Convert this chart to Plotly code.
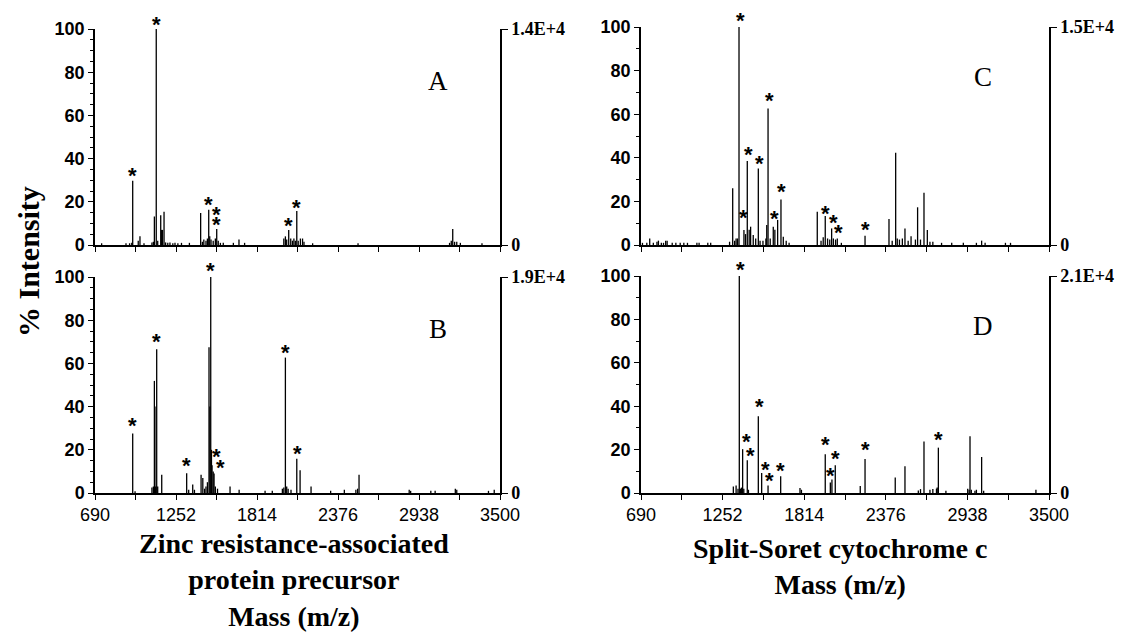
import plotly.graph_objects as go

# The page body adds an 8px margin, so the figure is shifted by 8px;
# it is sized to reach the right and bottom edges of the 1126x632 window.
PAGE_W, PAGE_H = 1126, 632
OFF = 8
W, H = PAGE_W - OFF, PAGE_H - OFF

# ---------------- data ----------------
# Panel A: Zinc resistance-associated protein precursor
A_mz = [736, 905, 930, 945, 951.6, 990, 1002, 1030, 1085, 1095, 1102, 1115, 1125, 1146, 1152, 1158, 1169,
        1180, 1195, 1210, 1230, 1245, 1265, 1290, 1345, 1423, 1435, 1445, 1460, 1470, 1479, 1486, 1495, 1510,
        1525, 1534.5, 1545, 1560, 1580, 1650, 1689, 1728, 2000, 2011, 2020, 2034, 2048, 2060, 2070, 2080, 2090,
        2100, 2115, 2130, 2140, 2200, 2515, 3150, 3162, 3172, 3185, 3200, 3225, 3375]
A_int = [0.8, 0.8, 0.8, 1, 29.7, 2, 4, 0.8, 1.2, 1.5, 13.2, 100, 2, 13.8, 7, 7, 15.4,
         1.2, 1, 1.2, 0.8, 1, 0.8, 1, 1, 14.8, 1.5, 2.5, 2, 3, 16.3, 4, 2.5, 2,
         3, 7.4, 2, 1, 1, 1, 2.5, 1, 3, 4, 2.5, 6.9, 3, 2, 3, 2, 15.7,
         2, 3, 3, 1.5, 0.8, 0.8, 1, 2, 7.4, 1.5, 1.5, 1, 0.8]
A_star_mz = [951.6, 1115, 1479, 1534, 1534, 2034, 2090]
A_star_y = [33.8, 104, 20.5, 15.8, 11.2, 10.8, 19.4]

# Panel B
B_mz = [951.6, 968, 1085, 1095, 1102, 1106, 1110, 1118, 1125, 1153, 1326, 1340, 1368, 1380, 1426, 1438,
        1450, 1460, 1470, 1481, 1487, 1493, 1498, 1502, 1510, 1516, 1525, 1540, 1627, 1690, 1870, 1920,
        1990, 2000, 2011, 2020, 2030, 2050, 2090, 2113, 2189, 2325, 2420, 2500, 2512, 2522, 2870, 2880,
        3020, 3050, 3190, 3200, 3420, 3460]
B_int = [27.6, 0.8, 2.5, 3, 51.9, 40, 3, 66.6, 3, 8.5, 9.1, 1.5, 3.9, 1.5, 8.5, 7,
         2, 3, 5, 67.5, 40, 100, 20, 12.8, 10, 9, 3, 2, 3, 1.5, 1, 1,
         2, 2.5, 62.7, 3, 2, 1.5, 15.8, 10.5, 3, 1, 1.5, 1.5, 2, 8.5, 1.5, 1,
         1, 1, 2, 1.5, 1, 1.5]
B_star_mz = [951.6, 1118, 1326, 1493, 1534, 1564, 2011, 2093]
B_star_y = [33, 72, 14.4, 104.8, 18.6, 13.5, 66.7, 20.1]

# Panel C: Split-Soret cytochrome c
C_mz = [700, 730, 750, 775, 800, 810, 830, 845, 860, 870, 905, 930, 960, 985, 1010, 1075, 1090, 1150, 1170,
        1300, 1321.5, 1335, 1345, 1355, 1365, 1399, 1410, 1422, 1435, 1445, 1463, 1480, 1498, 1510, 1530,
        1550, 1556, 1565, 1580, 1601, 1612, 1631, 1654, 1670, 1690, 1710, 1904, 1930, 1945, 1959, 1975,
        1990, 2003, 2015, 2030, 2042, 2070, 2233, 2398, 2420, 2444, 2455, 2470, 2490, 2508, 2530, 2550,
        2580, 2595, 2615, 2639, 2662, 2680, 2700, 2760, 2830, 2910, 3000, 3036, 3060, 3200, 3235]
C_int = [1, 1, 3, 1, 1.5, 2, 1, 1, 2, 2, 1, 1, 1, 1, 1, 1, 1, 1, 1,
         1.5, 26, 2, 3, 3, 100, 6.9, 5, 38.5, 7, 8.4, 4.6, 3, 35.1, 2, 2,
         3, 9.2, 62.6, 3, 8.4, 7, 11.5, 20.9, 3.8, 2, 1, 15.3, 2, 3.5, 13.3, 3,
         2.5, 7.6, 3, 2.5, 3, 1, 4.3, 11.9, 2, 42.3, 3, 2.5, 3, 7.6, 2, 4,
         2.5, 17.3, 2.5, 24, 6.9, 1.5, 1.5, 1, 1, 1, 1, 2, 1, 1, 1]
C_star_mz = [1376, 1399, 1429, 1505, 1572, 1606, 1659, 1964, 2014, 2049, 2235]
C_star_y = [104.6, 14.5, 43.5, 39.2, 68.2, 14, 26.3, 16.3, 12.1, 7.6, 8.9]

# Panel D
D_mz = [1326, 1345, 1358, 1367, 1375, 1382, 1390, 1398, 1422, 1430, 1498, 1521, 1565, 1652, 1785, 1795,
        1959, 1994, 2005, 2028, 2200, 2233, 2441, 2508, 2600, 2615, 2639, 2680, 2700, 2725, 2730, 2738,
        2790, 2940, 2950, 2956, 2965, 2990, 3000, 3036, 3050, 3410]
D_int = [3, 3.5, 2, 100, 2, 2.5, 20.2, 2, 15.1, 1.5, 35.4, 9.2, 3.5, 7.7, 2.3, 1.5,
         17.8, 4.8, 6.2, 12.8, 3.2, 15.7, 7.1, 12.3, 1.2, 1.8, 23.7, 1.5, 1.8, 2, 2.5, 20.9,
         1, 2, 1.5, 26.2, 1.5, 1, 1.5, 16.6, 1, 1.5]
D_star_mz = [1376, 1418, 1443, 1505, 1544, 1572, 1652, 1962, 1996, 2031, 2233, 2740]
D_star_y = [104.8, 25.4, 19.2, 41.7, 12.8, 7.4, 12, 24.3, 10, 17.7, 22, 26.6]

x_ticks = [690, 971, 1252, 1533, 1814, 2095, 2376, 2657, 2938, 3219, 3500]
x_labels = ["690", "", "1252", "", "1814", "", "2376", "", "2938", "", "3500"]
y_ticks = [0, 20, 40, 60, 80, 100]
panel_letters = ["A", "B", "C", "D"]
right_scale = ["1.4E+4", "1.9E+4", "1.5E+4", "2.1E+4"]


def px_x(p):
    return (p - OFF) / W


def px_y(p):
    return 1 - (p - OFF) / H


# ---------------- layout geometry (page pixels) ----------------
panels = [
    dict(mz=A_mz, it=A_int, smz=A_star_mz, sy=A_star_y, xpx=(95, 500), ypx=(29, 245), minor=5, lab=False, lpos=(3070, 76)),
    dict(mz=B_mz, it=B_int, smz=B_star_mz, sy=B_star_y, xpx=(95, 500), ypx=(277, 493), minor=5, lab=True, lpos=(3070, 76)),
    dict(mz=C_mz, it=C_int, smz=C_star_mz, sy=C_star_y, xpx=(641, 1049), ypx=(27, 245), minor=10, lab=False, lpos=(3045, 77)),
    dict(mz=D_mz, it=D_int, smz=D_star_mz, sy=D_star_y, xpx=(641, 1049), ypx=(276, 493), minor=10, lab=True, lpos=(3045, 77)),
]

fig = go.Figure()
annotations = []
SANS = "Liberation Sans, Arial, sans-serif"
SERIF = "Liberation Serif, Times New Roman, serif"

for i, p in enumerate(panels):
    n = i + 1
    xa = "x" if n == 1 else f"x{n}"
    ya = "y" if n == 1 else f"y{n}"
    ra = f"y{n + 4}"
    xs, ys = [], []
    for m, v in zip(p["mz"], p["it"]):
        xs += [m, m, None]
        ys += [0, v, None]
    fig.add_trace(go.Scatter(x=xs, y=ys, mode="lines", line=dict(color="black", width=1.3),
                             xaxis=xa, yaxis=ya, showlegend=False, hoverinfo="skip"))
    fig.add_trace(go.Scatter(x=[690], y=[0], mode="markers", marker=dict(opacity=0),
                             xaxis=xa, yaxis=ra, showlegend=False, hoverinfo="skip"))
    xd = [px_x(p["xpx"][0]), px_x(p["xpx"][1])]
    yd = [px_y(p["ypx"][1]), px_y(p["ypx"][0])]
    plot_h = p["ypx"][1] - p["ypx"][0]
    xkey = "xaxis" if n == 1 else f"xaxis{n}"
    ykey = "yaxis" if n == 1 else f"yaxis{n}"
    fig.layout[xkey] = dict(domain=xd, anchor=ya, range=[690, 3500], showgrid=False, zeroline=False,
                            automargin=False,
                            showline=True, linecolor="black", linewidth=1.5,
                            tickmode="array", tickvals=x_ticks, ticktext=x_labels,
                            ticks="outside", ticklen=5, tickwidth=1.3, tickcolor="black",
                            showticklabels=p["lab"],
                            tickfont=dict(family=SANS, size=18, color="black"))
    fig.layout[ykey] = dict(domain=yd, anchor=xa, range=[0, 100], showgrid=False, zeroline=False,
                            automargin=False,
                            showline=True, linecolor="black", linewidth=1.5,
                            tickmode="array", tickvals=y_ticks,
                            ticks="outside", ticklen=5, tickwidth=1.3, tickcolor="black",
                            minor=dict(dtick=p["minor"], tick0=0, ticks="outside", ticklen=3,
                                       tickwidth=1, tickcolor="black"),
                            tickfont=dict(family=SANS, size=18, color="black", weight="bold"))
    fig.layout[f"yaxis{n + 4}"] = dict(overlaying=ya, anchor=xa, side="right", range=[0, 100],
                                       automargin=False,
                                       showgrid=False, zeroline=False, showline=True,
                                       linecolor="black", linewidth=1.5,
                                       tickmode="array", tickvals=[0, 100], ticktext=["0", right_scale[i]],
                                       ticks="outside", ticklen=6, tickwidth=1.3, tickcolor="black",
                                       tickfont=dict(family=SERIF, size=18, color="black", weight="bold"))
    for sx, sy in zip(p["smz"], p["sy"]):
        ya_val = min(sy, 100)
        extra = (sy - ya_val) * plot_h / 100.0
        annotations.append(dict(x=sx, y=ya_val, xref=xa, yref=ya, text="*", showarrow=False,
                                font=dict(family=SANS, size=22, color="black", weight="bold"),
                                yanchor="middle", xanchor="center", yshift=-4 + extra))
    annotations.append(dict(x=p["lpos"][0], y=p["lpos"][1], xref=xa, yref=ya, text=panel_letters[i],
                            showarrow=False, font=dict(family=SERIF, size=27, color="black"),
                            xanchor="center", yanchor="middle"))

annotations.append(dict(x=px_x(28), y=px_y(262), xref="paper", yref="paper", text="% Intensity",
                        textangle=-90, showarrow=False,
                        font=dict(family=SERIF, size=30, color="black", weight="bold"),
                        xanchor="center", yanchor="middle"))
annotations.append(dict(x=px_x(294), y=px_y(580), xref="paper", yref="paper",
                        text="Zinc resistance-associated<br>protein precursor<br>Mass (m/z)",
                        showarrow=False, align="center",
                        font=dict(family=SERIF, size=28, color="black", weight="bold"),
                        xanchor="center", yanchor="middle"))
annotations.append(dict(x=px_x(840), y=px_y(566), xref="paper", yref="paper",
                        text="Split-Soret cytochrome c<br>Mass (m/z)",
                        showarrow=False, align="center",
                        font=dict(family=SERIF, size=28, color="black", weight="bold"),
                        xanchor="center", yanchor="middle"))

fig.update_layout(width=W, height=H, margin=dict(l=0, r=0, t=0, b=0),
                  paper_bgcolor="white", plot_bgcolor="white",
                  annotations=annotations, showlegend=False)

fig.write_html("out.html")
